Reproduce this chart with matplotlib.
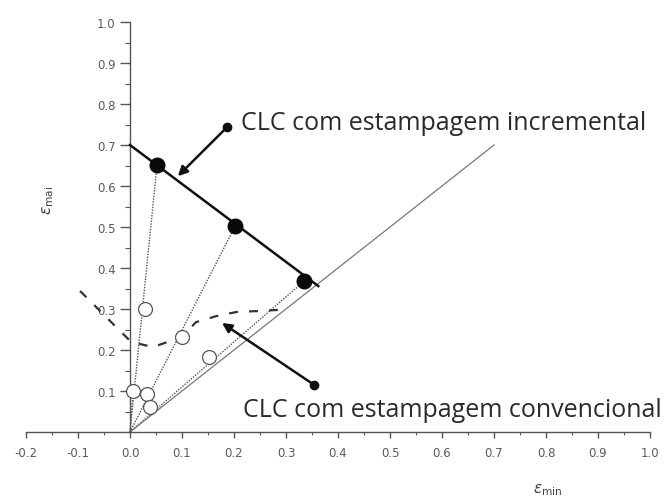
"""Curvas limite de conformação: estampagem incremental vs convencional."""

import matplotlib

matplotlib.use("Agg")
import matplotlib.pyplot as plt
from matplotlib.ticker import MultipleLocator

# CLC com estampagem incremental (linha cheia + pontos cheios)
incr_x = [0.0, 0.362]
incr_y = [0.70, 0.356]
filled_x = [0.052, 0.202, 0.335]
filled_y = [0.651, 0.502, 0.368]

# pontos da estampagem convencional (círculos abertos)
open_x = [0.029, 0.10, 0.152, 0.006, 0.033, 0.038]
open_y = [0.30, 0.232, 0.183, 0.10, 0.093, 0.061]

# CLC com estampagem convencional (tracejada)
conv_x = [-0.096, -0.029, 0.002, 0.044, 0.10, 0.127, 0.167, 0.206, 0.246, 0.288, 0.30]
conv_y = [0.344, 0.259, 0.22, 0.207, 0.232, 0.268, 0.283, 0.293, 0.295, 0.298, 0.293]

# trajetórias de deformação a partir da origem
path_end_x = [0.052, 0.202, 0.335, 0.006]
path_end_y = [0.651, 0.502, 0.368, 0.10]

# linha eps_mai = eps_min
diag_x = [0.0, 0.70]
diag_y = [0.0, 0.70]

label_incr = "CLC com estampagem incremental"
label_conv = "CLC com estampagem convencional"

fig = plt.figure(figsize=(6.69, 5.02), dpi=100)
ax = fig.add_axes([26 / 669, 69 / 502, 624 / 669, 410 / 502])
ax.set_xlim(-0.2, 1.0)
ax.set_ylim(0.0, 1.0)

for s in ("top", "right"):
    ax.spines[s].set_visible(False)
ax.spines["left"].set_position(("data", 0))
ax.spines["bottom"].set_position(("data", 0))
for s in ("left", "bottom"):
    ax.spines[s].set_color("#555555")
    ax.spines[s].set_linewidth(1.0)

ax.xaxis.set_major_locator(MultipleLocator(0.1))
ax.xaxis.set_minor_locator(MultipleLocator(0.05))
ax.yaxis.set_major_locator(MultipleLocator(0.1))
ax.yaxis.set_minor_locator(MultipleLocator(0.05))
ax.tick_params(which="major", length=7, width=1.0, color="#555555", labelsize=8.5,
               labelcolor="#5a5a5a")
ax.tick_params(which="minor", length=3.5, width=0.8, color="#555555")
ax.tick_params(axis="x", which="major", length=4, pad=6)
ax.tick_params(axis="x", which="minor", length=2.5)

xt = [i / 10 for i in range(-2, 11)]
ax.set_xticks(xt)
ax.set_xticklabels([f"{v:.1f}" for v in xt])
yt = [i / 10 for i in range(1, 11)]
ax.set_yticks(yt)
ax.set_yticklabels([f"{v:.1f}" for v in yt])

# trajetórias pontilhadas
for ex, ey in zip(path_end_x, path_end_y):
    ax.plot([0, ex], [0, ey], color="#555555", lw=1.0, ls=(0, (1, 1)), zorder=2)

ax.plot(diag_x, diag_y, color="#777777", lw=0.9, zorder=2)
ax.plot(incr_x, incr_y, color="#111111", lw=1.8, zorder=3)
ax.plot(conv_x, conv_y, color="#333333", lw=1.6, ls=(0, (4, 5)), zorder=3)

ax.plot(filled_x, filled_y, "o", color="#0a0a0a", ms=10.5, zorder=4)
ax.plot(open_x, open_y, "o", mfc="white", mec="#555555", mew=0.9, ms=10, zorder=4)

# setas
ax.annotate("", xy=(0.092, 0.624), xytext=(0.187, 0.744),
            arrowprops=dict(arrowstyle="-|>", lw=1.8, color="#111111", mutation_scale=14,
                            shrinkA=0, shrinkB=0), zorder=5)
ax.plot([0.187], [0.744], "o", color="#111111", ms=6, zorder=5)
ax.annotate("", xy=(0.177, 0.266), xytext=(0.354, 0.115),
            arrowprops=dict(arrowstyle="-|>", lw=1.8, color="#111111", mutation_scale=14,
                            shrinkA=0, shrinkB=0), zorder=5)
ax.plot([0.354], [0.115], "o", color="#111111", ms=6, zorder=5)

ax.text(0.213, 0.756, label_incr, fontsize=18, family="Open Sans", color="#2a2a2a",
        va="center", ha="left")
ax.text(0.217, 0.056, label_conv, fontsize=18, family="Open Sans", color="#2a2a2a",
        va="center", ha="left")

fig.text(0.072, 0.60, r"$\varepsilon_{\mathrm{mai}}$", rotation=90, fontsize=11,
         color="#444444", ha="center", va="center")
fig.text(0.818, 0.024, r"$\varepsilon_{\mathrm{min}}$", fontsize=11, color="#444444",
         ha="center", va="center")

fig.savefig("out.png", dpi=100)
